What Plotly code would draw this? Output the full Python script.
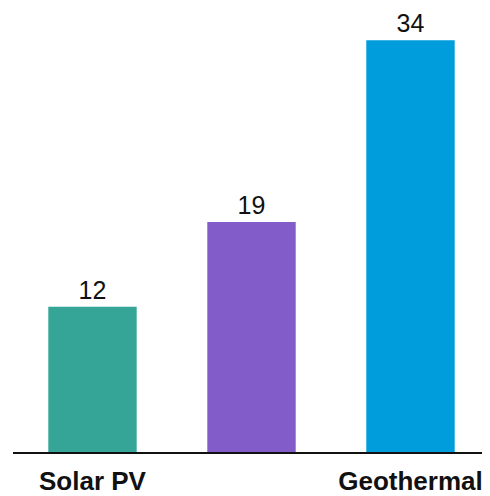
import plotly.graph_objects as go

categories = ["Solar PV", "Wind", "Geothermal"]
tick_labels = ["Solar PV", "", "Geothermal"]
values = [12, 19, 34]
colors = ["#35A598", "#825CC8", "#009DDC"]

fig = go.Figure(go.Bar(
    x=categories, y=values,
    marker=dict(color=colors, line=dict(width=0)),
    text=[str(v) for v in values], textposition="outside",
    textfont=dict(family="Liberation Sans, Arial", size=25, color="#111"),
    cliponaxis=False,
))
fig.update_layout(
    width=482, height=488,
    margin=dict(l=5, r=0, t=8, b=39),
    paper_bgcolor="white", plot_bgcolor="white",
    bargap=0.444, showlegend=False,
    font=dict(family="Liberation Sans, Arial"),
)
fig.update_xaxes(
    tickmode="array", tickvals=categories, ticktext=tick_labels,
    tickfont=dict(family="Liberation Sans, Arial", size=26, color="#111", weight="bold"),
    showline=True, linecolor="#111", linewidth=1.5, ticks="", ticklabelstandoff=5,
)
fig.update_yaxes(range=[0, 36], visible=False, showgrid=False)
fig.write_html("out.html")
